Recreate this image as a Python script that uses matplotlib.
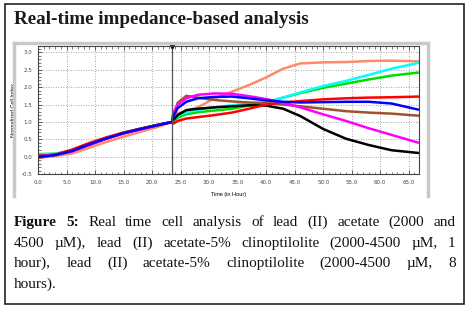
import matplotlib
matplotlib.use("Agg")
import matplotlib.pyplot as plt
from matplotlib.lines import Line2D
from matplotlib.patches import Rectangle
from matplotlib.ticker import MultipleLocator, FormatStrFormatter

# time axis (hours) shared by all wells; treatment added at 23.5 h
hours = [0, 3, 6, 9, 12, 15, 18, 21, 23.5,
         23.7, 24.5, 26, 28, 31, 34, 37, 40, 43, 46, 50, 54, 58, 62, 66.8]

salmon = [-0.02, 0.02, 0.10, 0.26, 0.43, 0.58, 0.72, 0.86, 1.00,
          1.15, 1.25, 1.32, 1.42, 1.68, 1.87, 2.06, 2.28, 2.53, 2.68, 2.71, 2.72, 2.75, 2.76, 2.74]
cyan = [0.07, 0.08, 0.18, 0.36, 0.53, 0.69, 0.81, 0.92, 1.00,
        1.05, 1.18, 1.28, 1.35, 1.42, 1.48, 1.53, 1.57, 1.70, 1.85, 2.03, 2.18, 2.35, 2.53, 2.70]
green = [0.08, 0.09, 0.19, 0.36, 0.53, 0.69, 0.81, 0.92, 1.00,
         1.03, 1.12, 1.22, 1.28, 1.33, 1.38, 1.47, 1.56, 1.70, 1.83, 1.98, 2.10, 2.22, 2.33, 2.42]
black = [0.03, 0.06, 0.17, 0.35, 0.53, 0.68, 0.80, 0.91, 1.00,
         1.05, 1.20, 1.34, 1.38, 1.42, 1.45, 1.48, 1.47, 1.38, 1.17, 0.80, 0.52, 0.34, 0.19, 0.11]
brown = [0.02, 0.06, 0.17, 0.35, 0.53, 0.68, 0.80, 0.91, 1.00,
         1.20, 1.55, 1.75, 1.70, 1.63, 1.59, 1.56, 1.54, 1.50, 1.45, 1.38, 1.31, 1.27, 1.24, 1.18]
red = [-0.03, 0.06, 0.21, 0.40, 0.56, 0.70, 0.81, 0.92, 1.00,
       0.95, 1.03, 1.10, 1.14, 1.20, 1.27, 1.38, 1.50, 1.56, 1.60, 1.65, 1.68, 1.70, 1.71, 1.73]
magenta = [0.02, 0.06, 0.16, 0.34, 0.52, 0.67, 0.79, 0.91, 1.00,
           1.25, 1.50, 1.68, 1.78, 1.82, 1.81, 1.74, 1.66, 1.55, 1.42, 1.22, 1.03, 0.82, 0.63, 0.40]
blue = [0.00, 0.05, 0.17, 0.36, 0.53, 0.68, 0.80, 0.91, 1.00,
        1.15, 1.40, 1.58, 1.68, 1.72, 1.73, 1.68, 1.62, 1.58, 1.56, 1.57, 1.58, 1.58, 1.53, 1.35]

treatment_time = 23.5

title = "Real-time impedance-based analysis"
caption_lines = [
    "Figure 5: Real time cell analysis of lead (II) acetate (2000 and",
    "4500 \u00b5M), lead (II) acetate-5% clinoptilolite (2000-4500 \u00b5M, 1",
    "hour), lead (II) acetate-5% clinoptilolite (2000-4500 \u00b5M, 8",
    "hours).",
]

W, H = 468, 310
serif = "Liberation Serif"
sans = "Liberation Sans"

fig = plt.figure(figsize=(W / 100, H / 100), dpi=100)

# outer frame
fig.patches.append(Rectangle((5 / W, 1 - 303.5 / H), 459 / W, 299.5 / H,
                             transform=fig.transFigure, fill=False,
                             ec="#222222", lw=1.2))

fig.text(14 / W, 1 - 24 / H, title, family=serif, fontweight="bold",
         fontsize=13.8, va="baseline", color="#1a1a1a")

# grey panel around the instrument screenshot
for xs, ys in [([14, 14], [43, 196]), ([14, 428], [43, 43]), ([428, 428], [43, 196])]:
    fig.lines.append(Line2D([x / W for x in xs], [1 - y / H for y in ys],
                            transform=fig.transFigure, color="#c8c8c8", lw=2.5))

ax = fig.add_axes([38 / W, 1 - 174.3 / H, 381 / W, 128.3 / H])

series = [(salmon, "#ff8a65"), (green, "#00e000"), (cyan, "#00ffff"),
          (black, "#000000"), (brown, "#a0522d"), (red, "#ff0000"),
          (magenta, "#ff00ff"), (blue, "#0000ff")]
for vals, col in series:
    ax.plot(hours, vals, color=col, lw=1.8, solid_capstyle="butt")

ax.axvline(treatment_time, color="#555555", lw=0.9)
ax.plot([treatment_time], [3.18], marker="v", color="black", ms=3.5,
        clip_on=False)

ax.set_xlim(0, 66.8)
ax.set_ylim(-0.5, 3.18)
ax.xaxis.set_major_locator(MultipleLocator(5))
ax.xaxis.set_minor_locator(MultipleLocator(1))
ax.yaxis.set_major_locator(MultipleLocator(0.5))
ax.yaxis.set_minor_locator(MultipleLocator(0.1))
ax.xaxis.set_major_formatter(FormatStrFormatter("%.1f"))
ax.yaxis.set_major_formatter(FormatStrFormatter("%.1f"))
ax.grid(True, which="major", ls=(0, (1, 2)), color="#888888", lw=0.6)
ax.tick_params(which="both", direction="in", top=True, right=False,
               labelsize=4, labelcolor="#444444", color="#444444")
ax.tick_params(which="major", length=3, width=0.6, pad=4)
ax.tick_params(which="minor", length=1.8, width=0.5)
for sp in ax.spines.values():
    sp.set_color("#444444")
    sp.set_linewidth(0.8)

ax.set_ylabel("Normalized Cell Index", family=sans, fontsize=4, labelpad=4)
ax.set_xlabel("Time (in Hour)", family=sans, fontsize=4, labelpad=5)

# justified caption, laid out word by word
baselines = [226, 246.7, 267.3, 288.3]
left_px, right_px = 14, 455.7
fig.canvas.draw()
renderer = fig.canvas.get_renderer()
for i, (line, yb) in enumerate(zip(caption_lines, baselines)):
    words = line.split(" ")
    arts = []
    for k, w in enumerate(words):
        bold = i == 0 and k < 2
        arts.append(fig.text(0, 1 - yb / H, w, family=serif, fontsize=11,
                             fontweight="bold" if bold else "normal",
                             va="baseline", color="#111111"))
    widths = [a.get_window_extent(renderer).width for a in arts]
    last = i == len(caption_lines) - 1
    if last or len(words) == 1:
        gap = arts[0].get_fontsize() * 0.3
    else:
        gap = (right_px - left_px - sum(widths)) / (len(words) - 1)
    x = left_px
    for a, w in zip(arts, widths):
        a.set_x(x / W)
        x += w + gap

fig.savefig("out.png", dpi=100)
